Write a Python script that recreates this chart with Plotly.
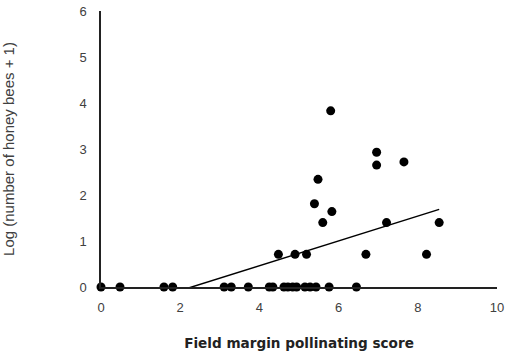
import plotly.graph_objects as go
import numpy as np

# Field margin pollinating score (x) and log(number of honey bees + 1) (y)
x_zero = [0.0, 0.48, 1.59, 1.81, 3.11, 3.29, 3.72, 4.25, 4.34, 4.62, 4.72, 4.84,
          4.94, 5.15, 5.28, 5.43, 5.76, 6.45]
y_zero = [0.0] * len(x_zero)

x_other = [4.48, 4.90, 5.19, 6.69, 8.22, 5.80, 6.96, 6.96, 7.65, 5.48, 5.39,
           5.83, 5.60, 7.21, 8.54]
y_other = [0.71, 0.71, 0.71, 0.71, 0.71, 3.83, 2.93, 2.65, 2.72, 2.34, 1.81,
           1.64, 1.40, 1.40, 1.40]

x_vals = x_zero + x_other
y_vals = y_zero + y_other

# Linear trendline
trend_slope = 0.27
trend_intercept = -0.618

x_ticks = [0, 2, 4, 6, 8, 10]
y_ticks = [0, 1, 2, 3, 4, 5, 6]

tx = np.linspace(min(x_vals), max(x_vals), 200)
ty = trend_intercept + trend_slope * tx

fig = go.Figure()
fig.add_trace(go.Scatter(x=tx, y=ty, mode="lines",
                         line=dict(color="black", width=1.5),
                         hoverinfo="skip", showlegend=False))
fig.add_trace(go.Scatter(x=x_vals, y=y_vals, mode="markers",
                         marker=dict(color="black", size=9),
                         cliponaxis=False, showlegend=False))

font = "Liberation Sans, Arial, sans-serif"
fig.update_layout(
    width=507, height=351,
    margin=dict(l=101, r=10, t=11, b=64),
    plot_bgcolor="white", paper_bgcolor="white",
    font=dict(family=font, size=13, color="#404040"),
)
fig.update_xaxes(
    range=[0, 10], tickvals=x_ticks, showgrid=False, zeroline=False,
    automargin=False,
    showline=True, linecolor="#222222", linewidth=1.5,
    ticks="outside", ticklen=8, tickcolor="rgba(0,0,0,0)",
    tickfont=dict(size=13, color="#404040"),
    title=dict(text="<b>Field margin pollinating score</b>",
               font=dict(family="DejaVu Sans, sans-serif", size=13.6,
                         color="#222222"), standoff=24),
)
fig.update_yaxes(
    range=[0, 6], tickvals=y_ticks, showgrid=False, zeroline=False,
    automargin=False,
    showline=True, linecolor="#222222", linewidth=1.5,
    ticks="outside", ticklen=10, tickcolor="rgba(0,0,0,0)",
    tickfont=dict(size=13, color="#404040"),
    title=dict(text="Log (number of honey bees + 1)",
               font=dict(size=15, color="#404040"), standoff=61),
)

fig.write_html("out.html", config={"displayModeBar": False},
               post_script="document.body.style.margin='0';")
